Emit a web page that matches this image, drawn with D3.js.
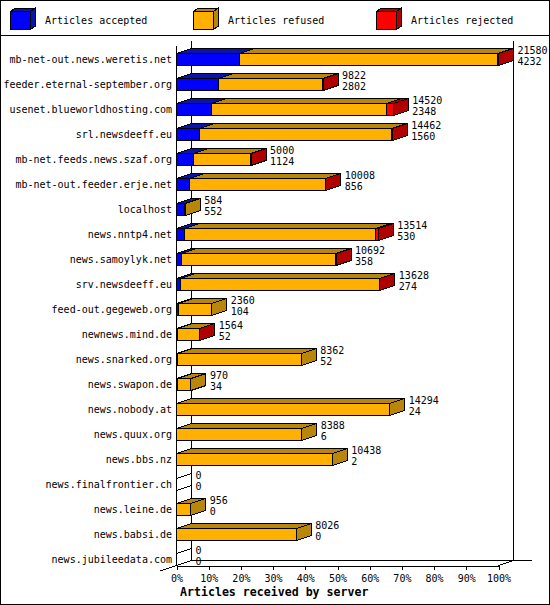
<html>
<head>
<script src="https://d3js.org/d3.v7.min.js"></script>
<style>
  body { margin: 0; background: #fff; }
  text { font-family: "DejaVu Sans Mono", monospace; font-size: 10px; fill: #000; }
  .title { font-weight: bold; font-size: 11.6px; }
</style>
</head>
<body>
<script>
// one entry per server, top to bottom
const servers = [
  "mb-net-out.news.weretis.net", "feeder.eternal-september.org", "usenet.blueworldhosting.com",
  "srl.newsdeeff.eu", "mb-net.feeds.news.szaf.org", "mb-net-out.feeder.erje.net", "localhost",
  "news.nntp4.net", "news.samoylyk.net", "srv.newsdeeff.eu", "feed-out.gegeweb.org",
  "newnews.mind.de", "news.snarked.org", "news.swapon.de", "news.nobody.at", "news.quux.org",
  "news.bbs.nz", "news.finalfrontier.ch", "news.leine.de", "news.babsi.de", "news.jubileedata.com"
];
const received = [21580, 9822, 14520, 14462, 5000, 10008, 584, 13514, 10692, 13628, 2360,
                  1564, 8362, 970, 14294, 8388, 10438, 0, 956, 8026, 0];
const accepted = [4232, 2802, 2348, 1560, 1124, 856, 552, 530, 358, 274, 104,
                  52, 52, 34, 24, 6, 2, 0, 0, 0, 0];
const refused  = [17308, 7000, 11752, 12872, 3866, 9132, 32, 12784, 10319, 13334, 2256,
                  1502, 8310, 936, 14270, 8382, 10436, 0, 956, 8026, 0];
const rejected = [40, 20, 420, 30, 10, 20, 0, 200, 15, 20, 0,
                  10, 0, 0, 0, 0, 0, 0, 0, 0, 0];
const percentTicks = [0, 10, 20, 30, 40, 50, 60, 70, 80, 90, 100];
const seriesNames = ["Articles accepted", "Articles refused", "Articles rejected"];

const frontColors = ["#0000ff", "#ffb000", "#ff0000"];
const shadeColors = ["#0a14aa", "#b8860b", "#b00000"];

const width = 550, height = 605;
const left = 176.5, right = 498.5, dx = 15, dy = 5;
const plotTop = 45.5, plotBottom = 565.5;

const svg = d3.select("body").append("svg")
  .attr("width", width).attr("height", height)
  .attr("shape-rendering", "crispEdges");

svg.append("rect")
  .attr("x", 0.5).attr("y", 0.5).attr("width", width - 1).attr("height", height - 1)
  .attr("fill", "#fff").attr("stroke", "#000");
svg.append("line")
  .attr("x1", 0).attr("x2", width).attr("y1", 35.5).attr("y2", 35.5)
  .attr("stroke", "#000");

// a 3D box: front, top, side
function box(g, xa, xb, yt, yb, ddx, ddy, front, shade) {
  g.append("rect")
    .attr("x", xa).attr("y", yt).attr("width", xb - xa).attr("height", yb - yt)
    .attr("fill", front).attr("stroke", "#000");
  g.append("polygon")
    .attr("points", [[xa, yt], [xb, yt], [xb + ddx, yt - ddy], [xa + ddx, yt - ddy]].join(" "))
    .attr("fill", shade).attr("stroke", "#000");
  g.append("polygon")
    .attr("points", [[xb, yt], [xb + ddx, yt - ddy], [xb + ddx, yb - ddy], [xb, yb]].join(" "))
    .attr("fill", shade).attr("stroke", "#000");
}

// legend
const legend = svg.append("g");
seriesNames.forEach((name, k) => {
  const lx = 10.5 + k * 183;
  box(legend, lx, lx + 20, 11.5, 29.5, 5, 3.5, frontColors[k], shadeColors[k]);
  legend.append("text").attr("x", lx + 34.5).attr("y", 24).text(name);
});

const xScale = d3.scaleLinear().domain([0, d3.max(received)]).range([left, right]);
const pScale = d3.scaleLinear().domain([0, 100]).range([left, right]);
const yScale = d3.scaleBand().domain(servers).range([40.5, 565.5]);

// frame
const frame = svg.append("g").attr("stroke", "#000").attr("fill", "none");
frame.append("line").attr("x1", left + dx).attr("x2", left + dx).attr("y1", plotTop - dy).attr("y2", plotBottom - dy);
frame.append("line").attr("x1", right + dx).attr("x2", right + dx).attr("y1", plotTop - dy).attr("y2", plotBottom - dy);
frame.append("line").attr("x1", left + dx).attr("x2", 531.5).attr("y1", plotBottom - dy).attr("y2", plotBottom - dy);
frame.append("line").attr("x1", left).attr("x2", left).attr("y1", plotTop).attr("y2", plotBottom);
frame.append("line").attr("x1", 160).attr("y1", plotBottom + 5.5).attr("x2", left + dx).attr("y2", plotBottom - dy);
frame.append("line").attr("x1", right).attr("y1", plotBottom).attr("x2", right + dx).attr("y2", plotBottom - dy);

// bottom axis
const axis = svg.append("g")
  .attr("transform", `translate(0, ${plotBottom})`)
  .call(d3.axisBottom(pScale).tickValues(percentTicks).tickFormat(d => d + "%")
    .tickSize(4).tickSizeOuter(0).tickPadding(5));
axis.selectAll("text").style("font-family", "DejaVu Sans Mono").style("font-size", "10px");
axis.select(".domain").attr("stroke", "#000");

svg.append("text").attr("class", "title")
  .attr("x", 180).attr("y", 596)
  .text("Articles received by server");

// bars
const bars = svg.append("g");
servers.forEach((s, i) => {
  const yt = yScale(s) + 13, yb = yScale(s) + 25;
  const vals = [accepted[i], refused[i], rejected[i]];
  let cum = 0;
  if (received[i] === 0) {
    box(bars, left, left, yt, yb, dx, dy, "none", "none");
  }
  vals.forEach((v, k) => {
    if (v <= 0) return;
    box(bars, xScale(cum), xScale(cum + v), yt, yb, dx, dy, frontColors[k], shadeColors[k]);
    cum += v;
  });

  svg.append("text")
    .attr("x", 172).attr("y", yb - 2.5)
    .attr("text-anchor", "end")
    .text(s);

  const tx = xScale(received[i]) + dx + 4;
  svg.append("text").attr("x", tx).attr("y", yb - 11.5).text(received[i]);
  svg.append("text").attr("x", tx).attr("y", yb - 0.5).text(accepted[i]);
});
</script>
</body>
</html>
